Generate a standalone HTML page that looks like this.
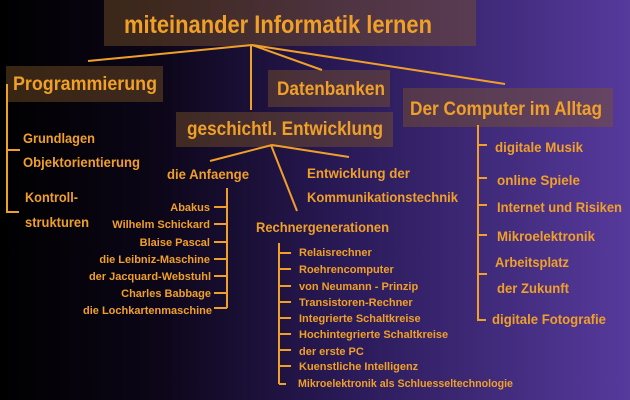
<!DOCTYPE html>
<html><head><meta charset="utf-8"><style>
html,body{margin:0;padding:0;width:630px;height:400px;overflow:hidden;background:#000}
svg{display:block}
text{font-family:"Liberation Sans",sans-serif;font-weight:bold;fill:#f0a028}
</style></head><body>
<svg width="630" height="400" viewBox="0 0 630 400" xmlns="http://www.w3.org/2000/svg">
<defs><linearGradient id="bg" x1="0" y1="0" x2="1" y2="0">
<stop offset="0" stop-color="#000"/><stop offset="0.25" stop-color="#0c0618"/><stop offset="0.55" stop-color="#2a1a58"/><stop offset="1" stop-color="#563a9c"/></linearGradient></defs>
<rect width="630" height="400" fill="url(#bg)"/>
<g fill="rgba(125,85,40,0.45)">
<rect x="104" y="0" width="372" height="46"/>
<rect x="6" y="66" width="157" height="36"/>
<rect x="268" y="70" width="122" height="37"/>
<rect x="403" y="88" width="210" height="39"/>
<rect x="176" y="112" width="217" height="35"/>
</g>
<g stroke="#f0a028" stroke-width="2" fill="none">
<line x1="252" y1="45" x2="88" y2="61"/>
<line x1="252" y1="45" x2="322" y2="70"/>
<line x1="252" y1="45" x2="505" y2="84"/>
<line x1="251" y1="45" x2="251" y2="110"/>
<line x1="272" y1="145" x2="210" y2="161"/>
<line x1="272" y1="145" x2="349" y2="157"/>
<line x1="271" y1="145" x2="297" y2="211"/>
<polyline points="7,84 7,212 19,212"/>
<line x1="7" y1="150" x2="20" y2="150"/>
<line x1="227" y1="188" x2="227" y2="308"/>
<line x1="214" y1="207" x2="227" y2="207"/><line x1="214" y1="224" x2="227" y2="224"/>
<line x1="214" y1="242" x2="227" y2="242"/><line x1="214" y1="259" x2="227" y2="259"/>
<line x1="214" y1="276" x2="227" y2="276"/><line x1="214" y1="293" x2="227" y2="293"/>
<line x1="214" y1="308" x2="227" y2="308"/>
<line x1="279" y1="243" x2="279" y2="384"/>
<line x1="279" y1="253" x2="291" y2="253"/><line x1="279" y1="269" x2="291" y2="269"/>
<line x1="279" y1="286" x2="291" y2="286"/><line x1="279" y1="302" x2="291" y2="302"/>
<line x1="279" y1="318" x2="291" y2="318"/><line x1="279" y1="334" x2="291" y2="334"/>
<line x1="279" y1="350" x2="291" y2="350"/><line x1="279" y1="366" x2="291" y2="366"/>
<line x1="279" y1="384" x2="286" y2="384"/>
<polyline points="478,125 478,320 486,320"/>
<line x1="478" y1="145" x2="487" y2="145"/><line x1="478" y1="178" x2="487" y2="178"/>
<line x1="478" y1="205" x2="487" y2="205"/><line x1="478" y1="235" x2="487" y2="235"/>
<line x1="478" y1="274" x2="487" y2="274"/>
</g>
<text x="124" y="33" font-size="25" textLength="308" lengthAdjust="spacingAndGlyphs">miteinander Informatik lernen</text>
<text x="13" y="90" font-size="19" textLength="144" lengthAdjust="spacingAndGlyphs">Programmierung</text>
<text x="277" y="95" font-size="19" textLength="108" lengthAdjust="spacingAndGlyphs">Datenbanken</text>
<text x="410" y="115" font-size="19" textLength="192" lengthAdjust="spacingAndGlyphs">Der Computer im Alltag</text>
<text x="187" y="135" font-size="19" textLength="196" lengthAdjust="spacingAndGlyphs">geschichtl. Entwicklung</text>
<g font-size="14">
<text x="23" y="143" textLength="72" lengthAdjust="spacingAndGlyphs">Grundlagen</text>
<text x="23" y="167" textLength="117" lengthAdjust="spacingAndGlyphs">Objektorientierung</text>
<text x="25" y="202" textLength="53" lengthAdjust="spacingAndGlyphs">Kontroll-</text>
<text x="25" y="227" textLength="64" lengthAdjust="spacingAndGlyphs">strukturen</text>
<text x="167" y="179" textLength="82" lengthAdjust="spacingAndGlyphs">die Anfaenge</text>
<text x="307" y="178" textLength="103" lengthAdjust="spacingAndGlyphs">Entwicklung der</text>
<text x="307" y="202" textLength="151" lengthAdjust="spacingAndGlyphs">Kommunikationstechnik</text>
<text x="256" y="232" textLength="133" lengthAdjust="spacingAndGlyphs">Rechnergenerationen</text>
<text x="495" y="152" textLength="88" lengthAdjust="spacingAndGlyphs">digitale Musik</text>
<text x="497" y="185" textLength="83" lengthAdjust="spacingAndGlyphs">online Spiele</text>
<text x="497" y="212" textLength="125" lengthAdjust="spacingAndGlyphs">Internet und Risiken</text>
<text x="497" y="241" textLength="98" lengthAdjust="spacingAndGlyphs">Mikroelektronik</text>
<text x="495" y="267" textLength="74" lengthAdjust="spacingAndGlyphs">Arbeitsplatz</text>
<text x="497" y="293" textLength="72" lengthAdjust="spacingAndGlyphs">der Zukunft</text>
<text x="492" y="324" textLength="114" lengthAdjust="spacingAndGlyphs">digitale Fotografie</text>
</g>
<g font-size="11" text-anchor="end">
<text x="210" y="211">Abakus</text>
<text x="210" y="228">Wilhelm Schickard</text>
<text x="210" y="246">Blaise Pascal</text>
<text x="210" y="263">die Leibniz-Maschine</text>
<text x="211" y="280">der Jacquard-Webstuhl</text>
<text x="211" y="297">Charles Babbage</text>
<text x="212" y="314">die Lochkartenmaschine</text>
</g>
<g font-size="11">
<text x="299" y="256">Relaisrechner</text>
<text x="299" y="273">Roehrencomputer</text>
<text x="299" y="290">von Neumann - Prinzip</text>
<text x="299" y="306">Transistoren-Rechner</text>
<text x="299" y="322">Integrierte Schaltkreise</text>
<text x="299" y="338">Hochintegrierte Schaltkreise</text>
<text x="299" y="355">der erste PC</text>
<text x="299" y="370">Kuenstliche Intelligenz</text>
<text x="298" y="387" textLength="215" lengthAdjust="spacingAndGlyphs">Mikroelektronik als Schluesseltechnologie</text>
</g>
</svg>
</body></html>
